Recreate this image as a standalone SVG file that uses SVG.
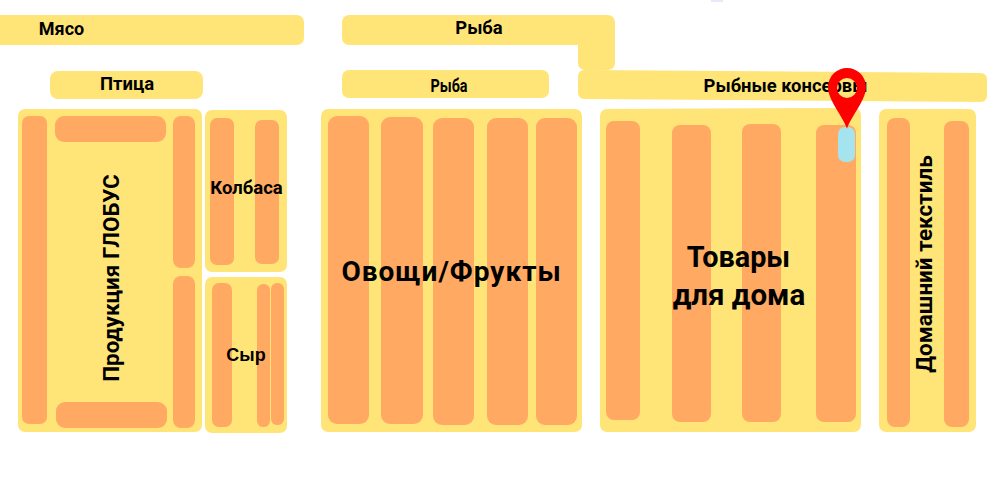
<svg xmlns="http://www.w3.org/2000/svg" width="995" height="483" viewBox="0 0 995 483">
<style>
.y{fill:#ffe577}.o{fill:#ffa962}
text{font-family:"Roboto","Noto Sans",sans-serif;font-weight:700;fill:#000;text-anchor:middle}
</style>
<rect width="995" height="483" fill="#fff"/>
<rect x="711" y="0" width="12" height="2" fill="#e6e8fb"/>
<g id="meat"><rect class="y" x="-10" y="15" width="314" height="30" rx="7"/><text x="61.5" y="35" font-size="18">Мясо</text></g>
<g id="fish1"><path class="y" d="M349 15H608a7 7 0 0 1 7 7V63a7 7 0 0 1-7 7H585a7 7 0 0 1-7-7V45H349a7 7 0 0 1-7-7V22a7 7 0 0 1 7-7Z"/><text x="479" y="34" font-size="18.4">Рыба</text></g>
<g id="bird"><rect class="y" x="50" y="71" width="153" height="28" rx="8"/><text x="127" y="90" font-size="18.5">Птица</text></g>
<g id="fish2"><rect class="y" x="342" y="70" width="207" height="28" rx="7"/><text transform="translate(449 92) scale(0.8 1)" font-size="18">Рыба</text></g>
<g id="canned"><path class="y" d="M584 70L981 73a6 6 0 0 1 6 6V96a6 6 0 0 1-6 6L584 99a6 6 0 0 1-6-6V76a6 6 0 0 1 6-6Z"/><text x="785.5" y="92" font-size="18.4">Рыбные консервы</text></g>
<g id="globus"><rect class="y" x="18" y="109" width="184" height="323" rx="7"/>
<rect class="o" x="22" y="116" width="25" height="308" rx="7"/><rect class="o" x="55" y="116" width="111" height="26" rx="9"/><rect class="o" x="173" y="116" width="22" height="152" rx="8"/><rect class="o" x="173" y="276" width="22" height="152" rx="8"/><rect class="o" x="56" y="402" width="111" height="26" rx="9"/>
<text transform="translate(119 278) rotate(-90)" font-size="22.4">Продукция ГЛОБУС</text></g>
<g id="sausage"><rect class="y" x="205" y="110" width="82" height="162" rx="7"/><rect class="o" x="210" y="118" width="24" height="147" rx="7"/><rect class="o" x="255" y="120" width="24" height="144" rx="7"/><text x="246.5" y="194" font-size="18.5">Колбаса</text></g>
<g id="cheese"><rect class="y" x="205" y="277" width="82" height="156" rx="7"/><rect class="o" x="212" y="283" width="20" height="144" rx="7"/><rect class="o" x="257" y="284" width="13" height="143" rx="6"/><rect class="o" x="271" y="283" width="13" height="142" rx="6"/><text x="246" y="361" font-size="18" style="font-family:'Liberation Sans',sans-serif">Сыр</text></g>
<g id="veg"><rect class="y" x="321" y="109" width="261" height="323" rx="7"/>
<rect class="o" x="328" y="116" width="41" height="308" rx="9"/><rect class="o" x="381" y="117" width="42" height="307" rx="9"/><rect class="o" x="433" y="118" width="41" height="307" rx="9"/><rect class="o" x="487" y="118" width="41" height="307" rx="9"/><rect class="o" x="536" y="118" width="41" height="307" rx="9"/>
<text x="451.5" y="281" font-size="28" letter-spacing="1">Овощи/Фрукты</text></g>
<g id="home"><path class="y" d="M607 109L854 108a7 7 0 0 1 7 7V425a7 7 0 0 1-7 7H607a7 7 0 0 1-7-7V116a7 7 0 0 1 7-7Z"/>
<rect class="o" x="606" y="121" width="34" height="299" rx="8"/><rect class="o" x="672" y="125" width="39" height="297" rx="8"/><rect class="o" x="742" y="124" width="39" height="298" rx="8"/><rect class="o" x="816" y="125" width="40" height="297" rx="8"/>
<text x="738.5" y="267" font-size="28.8">Товары</text><text x="739" y="305" font-size="29.5">для дома</text></g>
<g id="textile"><rect class="y" x="879" y="109" width="97" height="323" rx="7"/><rect class="o" x="887" y="118" width="23" height="309" rx="8"/><rect class="o" x="944" y="121" width="25" height="306" rx="8"/>
<text transform="translate(932 264) rotate(-90)" font-size="22.5">Домашний текстиль</text></g>
<g id="marker"><rect x="838" y="127" width="17" height="35" rx="7" fill="#a5e4ef"/>
<path fill-rule="evenodd" fill="#ff0000" d="M847 128.500C842 115 828 100 828 87a19 19 0 0 1 38 0C866 100 852 115 847 128.500ZM847 78a10 10 0 1 0 0 20a10 10 0 1 0 0-20Z"/></g>
</svg>
